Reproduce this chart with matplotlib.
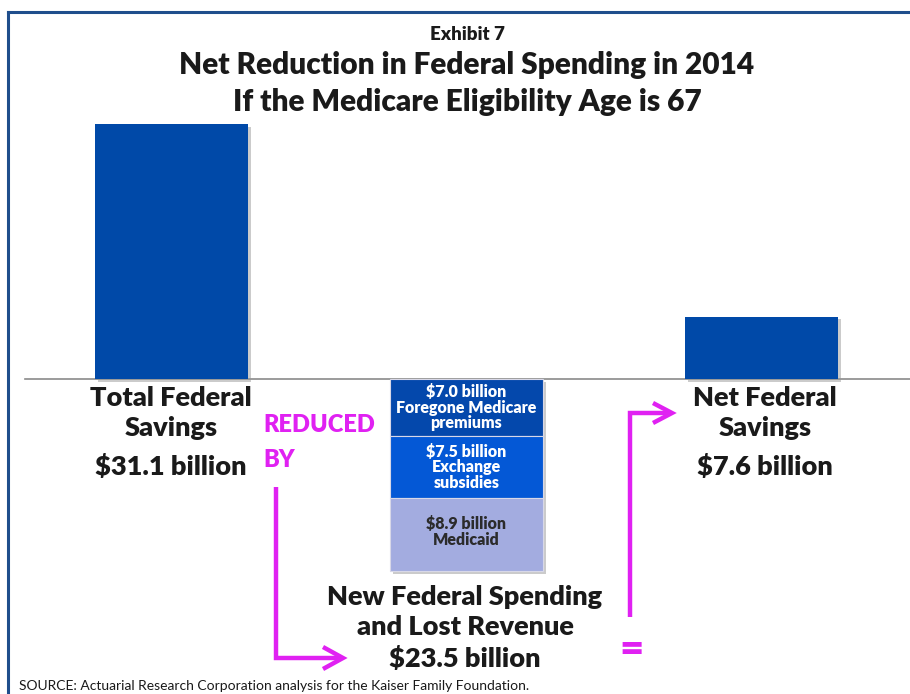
import matplotlib
matplotlib.use("Agg")
import matplotlib.pyplot as plt
import matplotlib.patheffects as pe
from matplotlib.lines import Line2D

plt.rcParams['font.family'] = ['Lato', 'DejaVu Sans']

# values in billions of dollars
totals = [31.1, 7.6]
total_names = ["Total Federal\nSavings", "Net Federal\nSavings"]
offset_values = [7.0, 7.5, 8.9]
offset_names = ["Foregone Medicare\npremiums", "Exchange\nsubsidies", "Medicaid"]
offset_total = 23.5
offset_colors = ["#0448AC", "#0458D6", "#A3ACE0"]
offset_text = ["white", "white", "#2b2b2b"]
bar_blue = "#0049A8"
magenta = "#E021F2"
ink = "#1a1a1a"

W, H = 910, 694
fig = plt.figure(figsize=(W / 100, H / 100), dpi=100)
ax = fig.add_axes([0, 0, 1, 1])
ax.set_axis_off()

# x: one unit per bar slot (295 px), y: billions (8.2 px per billion)
ppx, ppy = 295.0, 8.2
cx0, base_y = 171.5, 379
ax.set_xlim(-cx0 / ppx, (W - cx0) / ppx)
ax.set_ylim(-(H - base_y) / ppy, base_y / ppy)


def fx(x):
    return x / W


def fy(y):
    return 1 - y / H


shadow = [pe.SimplePatchShadow(offset=(2, -2), shadow_rgbFace="#999999", alpha=0.5), pe.Normal()]
bw = 153 / ppx

# positive bars: total savings and net savings
for xpos, val in zip([0, 2], totals):
    b = ax.bar(xpos, val, width=bw, color=bar_blue, zorder=3)
    for p in b:
        p.set_path_effects(shadow)

# stacked offsets hanging below the baseline
bottom = 0.0
for val, name, col, tc in zip(offset_values, offset_names, offset_colors, offset_text):
    b = ax.bar(1, -val, width=bw, bottom=bottom, color=col, edgecolor="#d8d8e8",
               linewidth=0.8, zorder=3)
    for p in b:
        p.set_path_effects(shadow)
    mid = bottom - val / 2
    ax.text(1, mid + (0.3 if tc != "white" else 0), f"${val:.1f} billion\n{name}",
            ha="center", va="center", color=tc, fontsize=11.5, fontweight="heavy",
            linespacing=0.95, zorder=4)
    bottom -= val

# baseline
ax.plot([ax.get_xlim()[0] + 25 / ppx, ax.get_xlim()[1]], [0, 0], color="#8a8a8a",
        lw=1.2, zorder=2)

# frame
fig.add_artist(Line2D([fx(8), 1], [fy(12), fy(12)], color="#1F4E8C", lw=2.2))
fig.add_artist(Line2D([fx(8), fx(8)], [fy(12), 0], color="#1F4E8C", lw=2.2))

# titles
fig.text(fx(467), fy(34), "Exhibit 7", ha="center", va="center", fontsize=13.5,
         fontweight="heavy", color=ink)
fig.text(fx(467), fy(65), "Net Reduction in Federal Spending in 2014", ha="center",
         va="center", fontsize=21.5, fontweight="heavy", color=ink)
fig.text(fx(467), fy(102), "If the Medicare Eligibility Age is 67", ha="center",
         va="center", fontsize=21.5, fontweight="heavy", color=ink)

# category labels
lab_kw = dict(ha="center", va="center", fontsize=19.5, fontweight="heavy", color=ink,
              linespacing=1.3)
fig.text(fx(171), fy(413), total_names[0], **lab_kw)
fig.text(fx(171), fy(466), f"${totals[0]:.1f} billion", **lab_kw)
fig.text(fx(765), fy(413), total_names[1], **lab_kw)
fig.text(fx(765), fy(466), f"${totals[1]:.1f} billion", **lab_kw)
fig.text(fx(465), fy(612), "New Federal Spending\nand Lost Revenue", **lab_kw)
fig.text(fx(465), fy(658), f"${offset_total:.1f} billion", **lab_kw)

# connectors
fig.text(fx(263), fy(425), "REDUCED", ha="left", va="center", fontsize=17,
         fontweight="heavy", color=magenta)
fig.text(fx(263), fy(460), "BY", ha="left", va="center", fontsize=17,
         fontweight="heavy", color=magenta)
fig.text(fx(631), fy(650), "=", ha="center", va="center", fontsize=30,
         fontweight="heavy", color=magenta)

arrow_kw = dict(color=magenta, lw=3.2, solid_capstyle="butt", solid_joinstyle="miter")
fig.add_artist(Line2D([fx(276), fx(276), fx(341)], [fy(487), fy(658), fy(658)], **arrow_kw))
fig.add_artist(Line2D([fx(323), fx(343), fx(323)], [fy(647), fy(658), fy(669)], **arrow_kw))
fig.add_artist(Line2D([fx(630), fx(630), fx(670)], [fy(617), fy(413), fy(413)], **arrow_kw))
fig.add_artist(Line2D([fx(653), fx(672), fx(653)], [fy(403), fy(413), fy(423)], **arrow_kw))

fig.text(fx(19), fy(686), "SOURCE: Actuarial Research Corporation analysis for the Kaiser Family Foundation.",
         ha="left", va="center", fontsize=10, color=ink)

fig.savefig("out.png", dpi=100)
